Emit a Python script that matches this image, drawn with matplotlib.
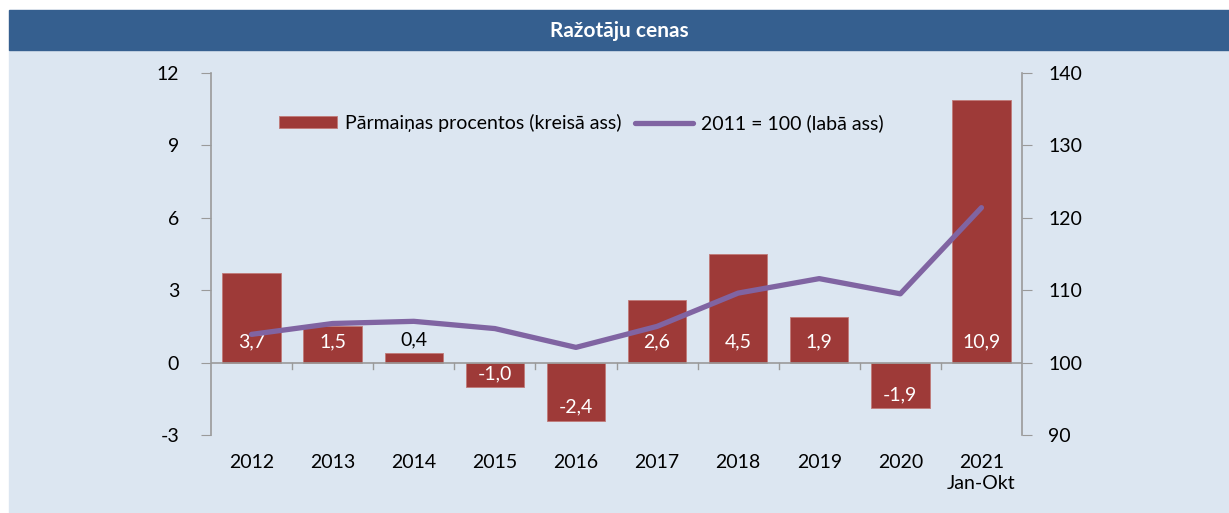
import matplotlib
matplotlib.use("Agg")
import matplotlib.pyplot as plt
import numpy as np
from matplotlib.patches import Rectangle

years = ["2012", "2013", "2014", "2015", "2016", "2017", "2018", "2019", "2020", "2021\nJan-Okt"]
change_pct = [3.7, 1.5, 0.4, -1.0, -2.4, 2.6, 4.5, 1.9, -1.9, 10.9]
index_2011 = [103.9, 105.4, 105.7, 104.7, 102.1, 105.0, 109.6, 111.6, 109.5, 121.4]

BG = "#dce6f1"
BAND = "#355f8f"
BAR = "#9e3a38"
LINE = "#8064a2"
SPINE = "#9a9a9a"
FS = 14

plt.rcParams["font.family"] = ["Lato", "DejaVu Sans"]

fig = plt.figure(figsize=(12.29, 5.13), dpi=100)
W, H = 1229, 513

# background panel and title band (kept beneath the axes)
fig.patches.append(Rectangle((9 / W, 0), 1 - 9 / W, 1 - 50 / H, transform=fig.transFigure,
                             color=BG, zorder=-2))
fig.patches.append(Rectangle((9 / W, 1 - 50 / H), 1 - 9 / W, 40 / H, transform=fig.transFigure,
                             color=BAND, zorder=-2))
fig.text((9 + (W - 9) / 2) / W, 1 - 31 / H, "Ražotāju cenas", color="white",
         fontsize=15, fontweight="bold", ha="center", va="center")

ax = fig.add_axes([211 / W, 1 - 435 / H, (1022 - 211) / W, (435 - 73) / H])
ax.set_facecolor("none")
x = np.arange(len(years))

bars = ax.bar(x, change_pct, width=0.72, color=BAR, edgecolor="#c07a78", linewidth=0.6,
              zorder=2, label="Pārmaiņas procentos (kreisā ass)")
ax.set_xlim(-0.5, len(years) - 0.5)
ax.set_ylim(-3, 12)
ax.set_yticks([-3, 0, 3, 6, 9, 12])
ax.set_yticklabels(["-3", "0", "3", "6", "9", "12"])

# value labels
for xi, v in zip(x, change_pct):
    txt = f"{v:.1f}".replace(".", ",")
    if v >= 1.5:
        ax.text(xi, 0.85, txt, ha="center", va="center", color="white", fontsize=FS, zorder=5)
    elif v >= 0:
        ax.text(xi, v + 0.2, txt, ha="center", va="bottom", color="black", fontsize=FS, zorder=5)
    else:
        ax.text(xi, v + 0.55, txt, ha="center", va="center", color="white", fontsize=FS, zorder=5)

for s in ["top", "right", "bottom"]:
    ax.spines[s].set_visible(False)
ax.spines["left"].set_color(SPINE)
ax.spines["left"].set_linewidth(1.2)
ax.axhline(0, color=SPINE, linewidth=1.2, zorder=3)
# category boundary ticks below the zero line
for b in np.arange(0.5, len(years) - 0.5, 1.0):
    ax.plot([b, b], [0, -0.25], color=SPINE, linewidth=1.0, zorder=3, clip_on=False)

ax.tick_params(axis="y", direction="out", length=7, color=SPINE, labelsize=FS, pad=16)
ax.tick_params(axis="x", length=0, labelsize=FS, pad=14)
ax.set_xticks(x)
ax.set_xticklabels(years, linespacing=1.25)

ax2 = ax.twinx()
ax2.set_ylim(90, 140)
ax2.set_yticks([90, 100, 110, 120, 130, 140])
line, = ax2.plot(x, index_2011, color=LINE, linewidth=3.8, solid_capstyle="round",
                 solid_joinstyle="round", zorder=4, label="2011 = 100 (labā ass)")
for s in ["top", "left", "bottom"]:
    ax2.spines[s].set_visible(False)
ax2.spines["right"].set_color(SPINE)
ax2.spines["right"].set_linewidth(1.2)
ax2.tick_params(axis="y", direction="out", length=7, color=SPINE, labelsize=FS, pad=12)

ax2.legend([bars, line], ["Pārmaiņas procentos (kreisā ass)", "2011 = 100 (labā ass)"],
           loc="upper left", bbox_to_anchor=(0.062, 0.935), ncol=2, frameon=False,
           fontsize=FS, handlelength=3.0, handleheight=0.6, columnspacing=0.7,
           handletextpad=0.4)

fig.savefig("out.png", dpi=100)
